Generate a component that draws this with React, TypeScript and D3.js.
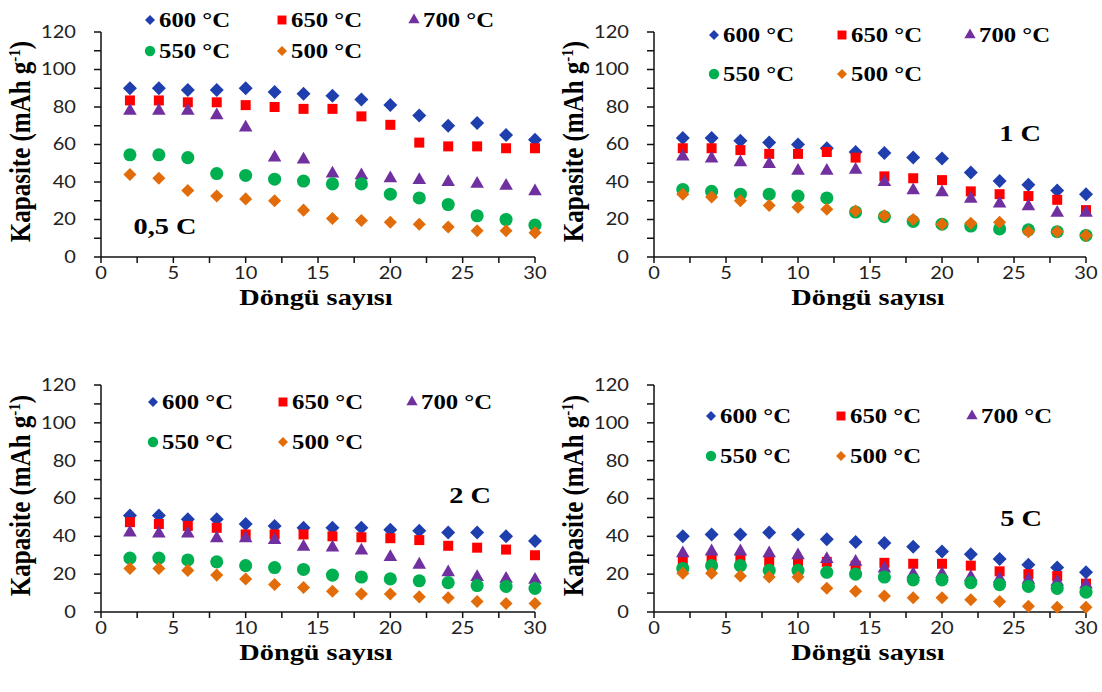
import React from 'react';
import * as d3 from 'd3';

const cycles = [2, 4, 6, 8, 10, 12, 14, 16, 18, 20, 22, 24, 26, 28, 30];
const seriesNames = ['600 °C', '650 °C', '700 °C', '550 °C', '500 °C'];
const rateLabels = ['0,5 C', '1 C', '2 C', '5 C'];
const xTickValues = d3.range(0, 30.01, 2.5);
const xLabelValues = [0, 5, 10, 15, 20, 25, 30];
const yTickValues = d3.range(0, 121, 10);
const yLabelValues = [0, 20, 40, 60, 80, 100, 120];

// 0,5 C
const c05_600 = [90, 90, 89, 89, 90, 88, 87, 86, 84, 81, 75.5, 70, 71.5, 65, 62.5];
const c05_650 = [83.5, 83.5, 82.5, 82.5, 81, 80, 79, 79, 75, 70.5, 61, 59, 59, 58, 58];
const c05_700 = [78, 78, 78, 75.5, 69, 53, 52, 44.5, 43.5, 42, 41, 40, 39, 38, 35];
const c05_550 = [54.5, 54.5, 53, 44.5, 43.5, 41.5, 40.5, 39, 39, 33.5, 31.5, 28, 22, 20, 17];
const c05_500 = [44, 42, 35.5, 32.5, 31, 30, 25, 20.5, 19.5, 18.5, 17.5, 16, 14, 14, 13];

// 1 C
const c1_600 = [63.5, 63.5, 62, 61, 60, 58, 56, 55.5, 53, 52.5, 45, 40.5, 38.5, 35.5, 33.5];
const c1_650 = [58, 58, 57, 55, 55, 56, 53, 43, 42, 41, 35, 33.5, 32.5, 30.5, 25];
const c1_700 = [53.5, 52.5, 50.5, 49.5, 46, 46, 46.5, 40, 35.5, 34.5, 31, 28.5, 27, 23.5, 23.5];
const c1_550 = [36, 35, 33.5, 33.5, 32.5, 31.5, 24, 21.5, 19, 17.5, 16.5, 15, 14.5, 13.5, 11.5];
const c1_500 = [33.5, 32, 30, 27.5, 26.5, 25.5, 24.5, 22, 20, 17.5, 18, 18.5, 13.5, 13.5, 11.5];

// 2 C
const c2_600 = [51, 51, 49, 49, 46.5, 45.5, 44.5, 44.5, 44.5, 43.5, 43, 42, 42, 40, 37.5];
const c2_650 = [47.5, 46.5, 45.5, 44.5, 41, 41, 41, 40, 39.5, 39, 38, 35, 34, 33, 30];
const c2_700 = [42, 41.5, 41.5, 39, 39, 38, 34.5, 34, 32.5, 29, 25, 21, 18.5, 17.5, 17];
const c2_550 = [28.5, 28.5, 27.5, 26.5, 24.5, 23.5, 22.5, 19.5, 18.5, 17.5, 16.5, 15.5, 14, 13.5, 12.5];
const c2_500 = [23, 23, 22, 19.5, 17.5, 14.5, 13, 11, 9.5, 9.5, 8, 7.5, 5.5, 4.5, 4.5];

// 5 C
const c5_600 = [40, 41, 41, 42, 41, 38.5, 37, 36.5, 34.5, 32, 30.5, 28, 25, 23.5, 21];
const c5_650 = [27, 27.5, 27.5, 27, 27, 26.5, 24.5, 26, 25.5, 25.5, 24.5, 21.5, 20, 19, 15];
const c5_700 = [31, 32, 32, 31, 30, 28, 26.5, 23, 20, 20, 18.5, 17.5, 17, 16, 14.5];
const c5_550 = [23, 24.5, 24.5, 22, 22, 21, 20, 18.5, 17, 17, 15.5, 14.5, 13.5, 12.5, 10.5];
const c5_500 = [20.5, 20.5, 19, 18.5, 18.5, 12.5, 11, 8.5, 7.5, 7.5, 6.5, 5.5, 3, 2.5, 2.5];

const serif = '"Liberation Serif", "Times New Roman", serif';
const sans = 'Lato, "Open Sans", sans-serif';
const stretch = 1.18; // the original figure is a bit wider than tall

// marker styles, in legend order
const styles = [
  { color: '#1f3fae', type: d3.symbolSquare, size: 98, rotate: 45, legendSize: 50 },
  { color: '#ff0000', type: d3.symbolSquare, size: 100, rotate: 0, legendSize: 80 },
  { color: '#7030a0', type: d3.symbolTriangle, size: 80, rotate: 0, legendSize: 55 },
  { color: '#00b050', type: d3.symbolCircle, size: 135, rotate: 0, legendSize: 85 },
  { color: '#e36c0a', type: d3.symbolSquare, size: 85, rotate: 45, legendSize: 50 },
];

const panels = [
  { data: [c05_600, c05_650, c05_700, c05_550, c05_500], left: 101, right: 535, top: 32, bottom: 257,
    legX: [150, 282, 414], legY: [20, 51], rate: [165, 226] },
  { data: [c1_600, c1_650, c1_700, c1_550, c1_500], left: 654, right: 1086, top: 32, bottom: 257,
    legX: [714, 842, 970], legY: [35, 74], rate: [1020, 133] },
  { data: [c2_600, c2_650, c2_700, c2_550, c2_500], left: 101, right: 535, top: 385, bottom: 612,
    legX: [153, 283, 412], legY: [402, 442], rate: [470, 495] },
  { data: [c5_600, c5_650, c5_700, c5_550, c5_500], left: 654, right: 1086, top: 385, bottom: 612,
    legX: [711, 841, 972], legY: [416, 456], rate: [1021, 518] },
];

const SText = ({ x, y, anchor = 'start', font, size, bold = false, fill = '#000', children }: any) => (
  <text transform={`translate(${x},${y}) scale(${stretch},1)`} textAnchor={anchor} dy="0.35em"
    fontFamily={font} fontSize={size} fontWeight={bold ? 'bold' : 'normal'} fill={fill}>{children}</text>
);

const Panel = ({ p, rate }: { p: any; rate: string }) => {
  const x = d3.scaleLinear().domain([0, 30]).range([p.left, p.right]);
  const y = d3.scaleLinear().domain([0, 120]).range([p.bottom, p.top]);
  const sym = (i: number, big = true) =>
    d3.symbol().type(styles[i].type).size(big ? styles[i].size : styles[i].legendSize)()!;
  const legendPos = [[0, 0], [1, 0], [2, 0], [0, 1], [1, 1]];
  const midY = (p.top + p.bottom) / 2;

  return (
    <g>
      {/* axes */}
      <line x1={p.left} x2={p.left} y1={p.top} y2={p.bottom} stroke="#111" strokeWidth={1.5} />
      <line x1={p.left} x2={p.right} y1={p.bottom} y2={p.bottom} stroke="#111" strokeWidth={1.5} />
      {yTickValues.map(v => (
        <line key={'yt' + v} x1={p.left - 7} x2={p.left} y1={y(v)} y2={y(v)} stroke="#111" strokeWidth={1.5} />
      ))}
      {xTickValues.map(v => (
        <line key={'xt' + v} x1={x(v)} x2={x(v)} y1={p.bottom} y2={p.bottom + 6} stroke="#111" strokeWidth={1.5} />
      ))}
      {yLabelValues.map(v => (
        <SText key={'yl' + v} x={p.left - 25} y={y(v)} anchor="end" font={sans} size={17} fill="#222">{v}</SText>
      ))}
      {xLabelValues.map(v => (
        <SText key={'xl' + v} x={x(v)} y={p.bottom + 16} anchor="middle" font={sans} size={17} fill="#222">{v}</SText>
      ))}
      <SText x={(p.left + p.right) / 2 - 2} y={p.bottom + 40} anchor="middle" font={serif} size={24} bold>
        Döngü sayısı
      </SText>
      <text transform={`translate(${p.left - 81},${midY - 3}) rotate(-90) scale(1,${stretch})`} textAnchor="middle"
        dy="0.35em" fontFamily={serif} fontWeight="bold" fontSize={25}>
        Kapasite (mAh g<tspan fontSize={15} dy={-9}>-1</tspan><tspan dy={9}>)</tspan>
      </text>

      {/* points */}
      {p.data.map((vals: number[], i: number) => (
        <g key={'s' + i} fill={styles[i].color}>
          {vals.map((v, j) => (
            <path key={j} d={sym(i)}
              transform={`translate(${x(cycles[j])},${y(v)}) rotate(${styles[i].rotate})`} />
          ))}
        </g>
      ))}

      {/* legend */}
      {seriesNames.map((name, i) => {
        const lx = p.legX[legendPos[i][0]];
        const ly = p.legY[legendPos[i][1]];
        return (
          <g key={'lg' + i}>
            <path d={sym(i, false)} fill={styles[i].color}
              transform={`translate(${lx},${ly}) rotate(${styles[i].rotate})`} />
            <SText x={lx + 9} y={ly} font={serif} size={21} bold>{name}</SText>
          </g>
        );
      })}

      <SText x={p.rate[0]} y={p.rate[1]} anchor="middle" font={serif} size={24} bold>{rate}</SText>
    </g>
  );
};

export default function App() {
  return (
    <svg width={1102} height={692} style={{ position: 'absolute', left: 0, top: 0, background: '#fff' }}>
      <rect width={1102} height={692} fill="#fff" />
      {panels.map((p, i) => <Panel key={i} p={p} rate={rateLabels[i]} />)}
    </svg>
  );
}
